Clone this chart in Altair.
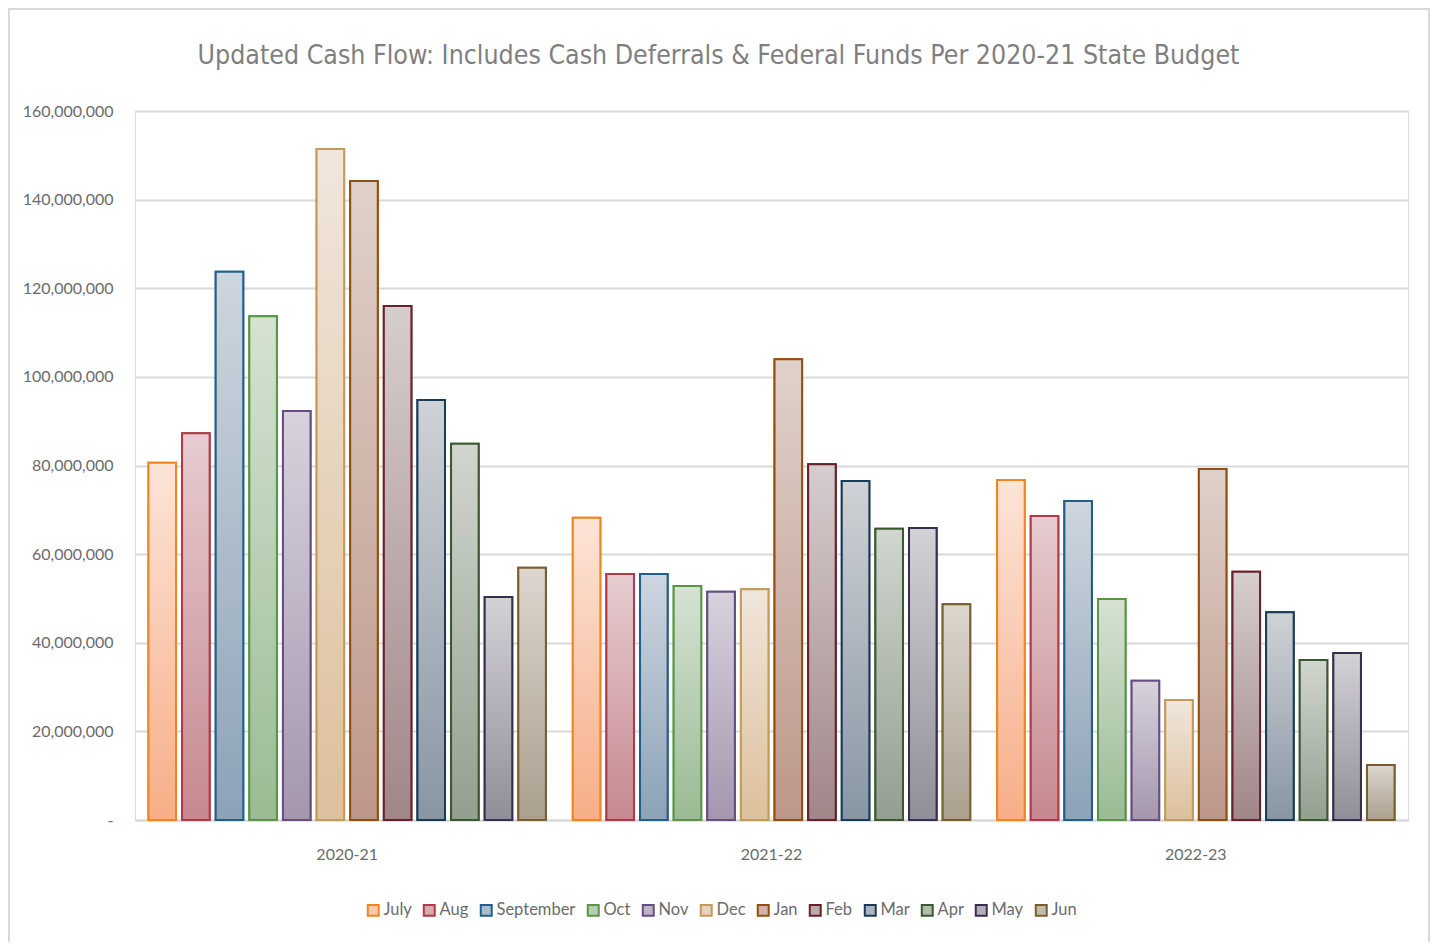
import altair as alt
import pandas as pd

months = ["July", "Aug", "September", "Oct", "Nov", "Dec", "Jan", "Feb", "Mar", "Apr", "May", "Jun"]
years = ["2020-21", "2021-22", "2022-23"]

vals_2020_21 = [80.6, 87.3, 123.7, 113.7, 92.3, 151.4, 144.2, 116.0, 94.8, 84.9, 50.3, 56.9]
vals_2021_22 = [68.2, 55.5, 55.5, 52.8, 51.5, 52.1, 104.0, 80.3, 76.5, 65.7, 65.9, 48.7]
vals_2022_23 = [76.7, 68.6, 72.0, 49.9, 31.4, 27.1, 79.2, 56.0, 46.9, 36.1, 37.7, 12.4]

stroke_colors = ["#F0851D", "#B03A48", "#1F5F8B", "#5A9447", "#664D83", "#C49A5A",
                 "#954F0C", "#6B1F2A", "#1B3C58", "#385A2E", "#3A2E4D", "#7A5F2E"]
top_colors = ["#FCE4D8", "#E6CDD0", "#CED6DF", "#D6E2D3", "#D7D2DD", "#F0E6DC",
              "#DFD1CB", "#D6CDCE", "#CFD2D6", "#D1D6CF", "#D3D2D6", "#DDD6CF"]
bottom_colors = ["#F7AE88", "#C68890", "#8CA2B7", "#9ABB94", "#A596AE", "#DDC09C",
                 "#BD978A", "#A18688", "#8896A4", "#939F90", "#908E98", "#ABA08F"]
mid_colors = ["#FAC9AE", "#D6AAB0", "#AEBCCB", "#B8CEB3", "#BEB4C5", "#E7D3BC",
              "#CEB4AA", "#BCA9AB", "#ACB4BD", "#B2BBAF", "#B2B0B7", "#C4BBAF"]

rows = []
for yr, vals in zip(years, [vals_2020_21, vals_2021_22, vals_2022_23]):
    for m, v in zip(months, vals):
        rows.append({"year": yr, "month": m, "value": v * 1_000_000})
df = pd.DataFrame(rows)

FONT = "Lato"
TITLE_FONT = "Liberation Sans Narrow, DejaVu Sans Condensed, Lato, sans-serif"
TXT = "#6b6b6b"
GRID = "#d9d9d9"

PLOT_W = 1273
PLOT_H = 709

x_enc = alt.X("year:N", sort=years, title=None,
              scale=alt.Scale(paddingInner=0, paddingOuter=0),
              axis=alt.Axis(labelAngle=0, labelFont=FONT, labelFontSize=16, labelColor=TXT,
                            labelPadding=26, ticks=False, domain=True, domainColor=GRID,
                            domainWidth=2, grid=False))
xo_enc = alt.XOffset("month:N", sort=months,
                     scale=alt.Scale(domain=months, paddingInner=0.18, paddingOuter=0.4))
y_enc = alt.Y("value:Q", title=None,
              scale=alt.Scale(domain=[0, 160_000_000], nice=False),
              axis=alt.Axis(values=[i * 20_000_000 for i in range(9)],
                            labelExpr="datum.value == 0 ? '-' : format(datum.value, ',')",
                            labelFont=FONT, labelFontSize=16, labelColor=TXT, labelPadding=22,
                            ticks=False, domain=False, grid=True, gridColor=GRID, gridWidth=2))

legend = alt.Legend(title=None, orient="none", legendX=230, legendY=791, direction="horizontal",
                    symbolType="square", symbolSize=120, symbolStrokeWidth=2,
                    labelFont=FONT, labelFontSize=16.5, labelColor=TXT, labelOffset=2,
                    columnPadding=7, columns=12)

base = alt.Chart(df).encode(x=x_enc, xOffset=xo_enc, y=y_enc)

frame = alt.Chart(pd.DataFrame({"frame": [0]})).mark_rect(
    fill="transparent", stroke=GRID, strokeWidth=2
).encode(x=alt.value(-126), x2=alt.value(1294), y=alt.value(-102), y2=alt.value(840))

legend_layer = base.mark_bar(strokeWidth=2).encode(
    fill=alt.Fill("month:N", sort=months, scale=alt.Scale(domain=months, range=mid_colors), legend=legend),
    stroke=alt.Stroke("month:N", sort=months, scale=alt.Scale(domain=months, range=stroke_colors), legend=legend),
)

layers = [frame, legend_layer]
for m, sc, tc, bc in zip(months, stroke_colors, top_colors, bottom_colors):
    grad = alt.LinearGradient(gradient="linear", x1=0, y1=0, x2=0, y2=1,
                              stops=[alt.GradientStop(offset=0, color=tc),
                                     alt.GradientStop(offset=1, color=bc)])
    layers.append(
        base.mark_bar(fill=grad, stroke=sc, strokeWidth=2).transform_filter(alt.datum.month == m)
    )

chart = alt.layer(*layers).properties(
    width=PLOT_W, height=PLOT_H,
    title=alt.Title("Updated Cash Flow: Includes Cash Deferrals & Federal Funds Per 2020-21 State Budget",
                    font=TITLE_FONT, fontSize=26.5, fontWeight="normal", color="#7f7f7f",
                    anchor="middle", frame="group", dx=-53, offset=0, dy=61),
    autosize=alt.AutoSizeParams(type="none"),
    padding={"left": 127, "top": 103, "right": 22, "bottom": 122},
).configure_view(stroke=None).configure(background="white")

chart.save("out.html", embed_options={"renderer": "svg", "actions": False})
